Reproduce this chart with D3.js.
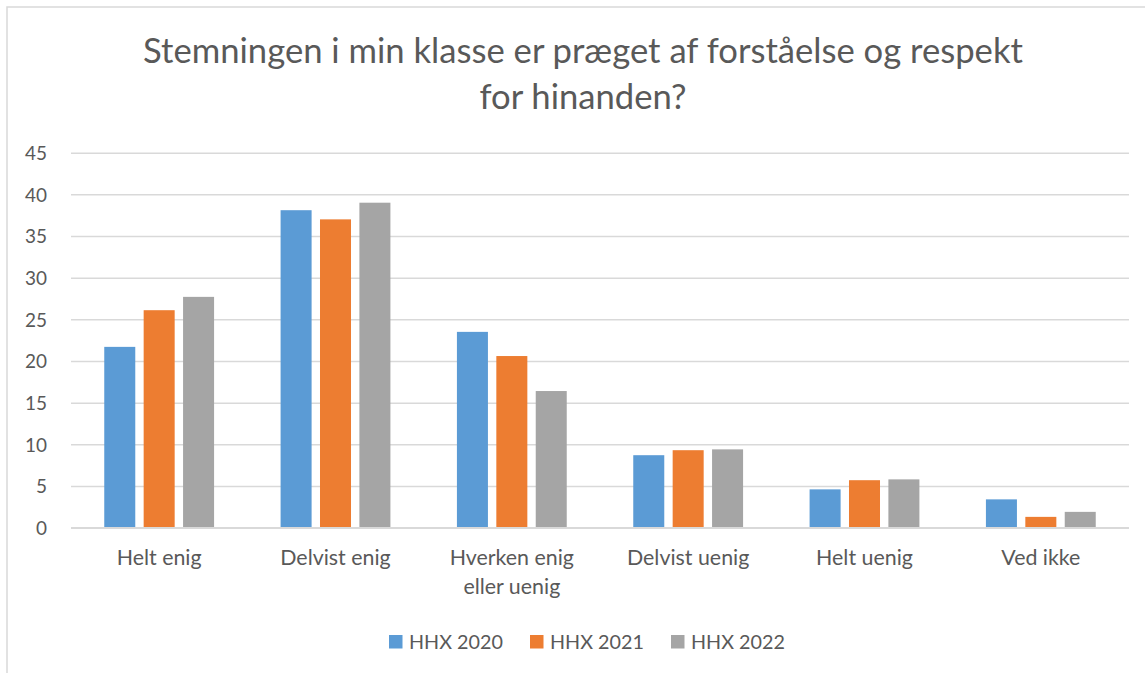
<!DOCTYPE html>
<html><head><meta charset="utf-8">
<script src="https://cdn.jsdelivr.net/npm/d3@7"></script>
<style>body{margin:0;background:#fff}svg{display:block}</style>
</head><body>
<script>
const categories = ["Helt enig", "Delvist enig", "Hverken enig\neller uenig", "Delvist uenig", "Helt uenig", "Ved ikke"];
const seriesNames = ["HHX 2020", "HHX 2021", "HHX 2022"];
const hhx2020 = [21.7, 38.1, 23.5, 8.7, 4.6, 3.4];
const hhx2021 = [26.1, 37.0, 20.6, 9.3, 5.7, 1.3];
const hhx2022 = [27.7, 39.0, 16.4, 9.4, 5.8, 1.9];
const yTicks = [0, 5, 10, 15, 20, 25, 30, 35, 40, 45];
const titleLines = ["Stemningen i min klasse er præget af forståelse og respekt", "for hinanden?"];
const colors = ["#5B9BD5", "#ED7D31", "#A5A5A5"];

(function () {
const W = 1145, H = 673;
const FONT = "Lato, 'Open Sans', sans-serif";
const TXT = "#595959";
const svg = d3.select("body").append("svg").attr("width", W).attr("height", H);

svg.append("rect").attr("x", 7).attr("y", 7).attr("width", W + 20).attr("height", H + 20)
  .attr("fill", "#fff").attr("stroke", "#d9d9d9").attr("stroke-width", 1.5);

function fitSize(text, target) {
  const t = svg.append("text").attr("font-family", FONT).attr("font-size", 100).text(text);
  const w = t.node().getComputedTextLength();
  t.remove();
  return 100 * target / w;
}
const titleSize = fitSize(titleLines[0], 880);
const legendSize = fitSize("HHX 2020", 94);
const catSize = fitSize("Helt enig", 85);
const tickSize = fitSize("45", 22);

svg.append("g").selectAll("text").data(titleLines).join("text")
  .attr("x", 583).attr("y", (d, i) => 63 + i * 46)
  .attr("text-anchor", "middle").attr("font-family", FONT).attr("font-size", titleSize)
  .attr("fill", TXT).text(d => d);

const pLeft = 71, pRight = 1129, pTop = 152.7, pBottom = 527.7;
const y = d3.scaleLinear().domain([0, 45]).range([pBottom, pTop]);
const x0 = d3.scaleBand().domain(categories).range([pLeft, pRight]).padding(0);
const x1 = d3.scaleBand().domain(seriesNames).range([0, x0.bandwidth()])
  .paddingInner(0.213).paddingOuter(0.844);

const yAxis = d3.axisLeft(y).tickValues(yTicks).tickSize(-(pRight - pLeft)).tickPadding(24);
const gy = svg.append("g").attr("transform", `translate(${pLeft},0)`).call(yAxis);
gy.select(".domain").remove();
gy.selectAll(".tick line").attr("stroke", "#d9d9d9").attr("stroke-width", 1.5);
gy.selectAll(".tick text").attr("font-family", FONT).attr("font-size", tickSize)
  .attr("fill", TXT).attr("dy", "0.35em");

const data = [hhx2020, hhx2021, hhx2022];
const groups = svg.append("g").selectAll("g").data(categories).join("g")
  .attr("transform", c => `translate(${x0(c)},0)`);
groups.selectAll("rect").data((c, ci) => seriesNames.map((s, si) => ({ s, si, v: data[si][ci] })))
  .join("rect")
  .attr("x", d => x1(d.s)).attr("width", x1.bandwidth())
  .attr("y", d => y(d.v)).attr("height", d => y(0) - y(d.v))
  .attr("fill", d => colors[d.si]);

svg.append("line").attr("x1", pLeft).attr("x2", pRight).attr("y1", y(0)).attr("y2", y(0))
  .attr("stroke", "#d9d9d9").attr("stroke-width", 1.5);

const xl = svg.append("g").selectAll("text").data(categories).join("text")
  .attr("x", c => x0(c) + x0.bandwidth() / 2).attr("y", 565)
  .attr("text-anchor", "middle").attr("font-family", FONT).attr("font-size", catSize).attr("fill", TXT);
xl.each(function (c) {
  const lines = c.split("\n");
  d3.select(this).selectAll("tspan").data(lines).join("tspan")
    .attr("x", x0(c) + x0.bandwidth() / 2).attr("dy", (d, i) => i === 0 ? 0 : 29).text(d => d);
});

const legX = [389, 530, 671];
const lg = svg.append("g").selectAll("g").data(seriesNames).join("g")
  .attr("transform", (d, i) => `translate(${legX[i]},0)`);
lg.append("rect").attr("x", 0).attr("y", 635).attr("width", 13.5).attr("height", 13.5).attr("fill", (d, i) => colors[i]);
lg.append("text").attr("x", 20).attr("y", 649).attr("font-family", FONT).attr("font-size", legendSize)
  .attr("fill", TXT).text(d => d);
})();
</script>
</body></html>
